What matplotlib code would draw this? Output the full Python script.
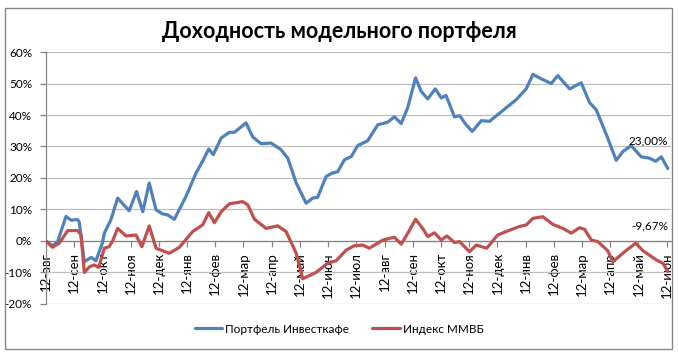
import matplotlib
matplotlib.use('Agg')
import matplotlib.pyplot as plt
from matplotlib.patches import Rectangle
from matplotlib.ticker import FuncFormatter

plt.rcParams['font.family'] = ['Lato', 'DejaVu Sans']

# подписи месяцев (12-е число каждого месяца, авг 2012 - июн 2014)
month_labels = ['12-авг', '12-сен', '12-окт', '12-ноя', '12-дек', '12-янв', '12-фев',
                '12-мар', '12-апр', '12-май', '12-июн', '12-июл', '12-авг', '12-сен',
                '12-окт', '12-ноя', '12-дек', '12-янв', '12-фев', '12-мар', '12-апр',
                '12-май', '12-июн']

# Портфель Инвесткафе: позиция в месяцах от 12-авг, доходность в %
portf_x = [0.00, 0.23, 0.41, 0.71, 0.89, 1.12, 1.18, 1.36, 1.60, 1.77, 2.00, 2.07,
           2.30, 2.54, 2.95, 3.21, 3.43, 3.66, 3.90, 4.13, 4.31, 4.55, 4.96, 5.32,
           5.55, 5.77, 5.93, 6.21, 6.50, 6.68, 7.09, 7.33, 7.62, 7.98, 8.33, 8.57,
           8.87, 9.22, 9.45, 9.63, 9.93, 10.16, 10.34, 10.58, 10.82, 11.05, 11.40,
           11.76, 12.11, 12.35, 12.59, 12.82, 13.10, 13.30, 13.53, 13.80, 14.01,
           14.18, 14.48, 14.66, 14.89, 15.11, 15.43, 15.72, 16.01, 16.67, 17.02,
           17.26, 17.55, 17.91, 18.14, 18.56, 18.97, 19.27, 19.50, 19.91, 20.21,
           20.45, 20.74, 21.10, 21.39, 21.61, 21.81, 22.04]
portf_y = [0.0, -1.5, -0.3, 7.8, 6.6, 6.8, 6.0, -6.6, -5.2, -6.3, -0.6, 2.5,
           6.7, 13.6, 9.6, 15.7, 9.3, 18.4, 9.9, 8.6, 8.3, 6.9, 14.1, 21.6,
           25.3, 29.2, 27.4, 32.7, 34.5, 34.5, 37.5, 33.0, 30.9, 31.1, 29.0, 26.3,
           18.4, 12.0, 13.6, 13.9, 20.5, 21.6, 22.0, 25.8, 26.8, 30.3, 31.8,
           36.9, 37.7, 39.4, 37.3, 42.3, 51.8, 47.5, 45.1, 48.3, 45.4,
           46.2, 39.4, 39.8, 36.9, 34.8, 38.2, 38.0, 40.1, 44.9, 48.3,
           52.9, 51.5, 50.0, 52.5, 48.3, 50.2, 43.9, 41.7, 32.7, 25.6,
           28.4, 30.3, 26.7, 26.3, 25.3, 26.7, 23.00]

# Индекс ММВБ
micex_x = [0.00, 0.23, 0.47, 0.77, 1.12, 1.24, 1.36, 1.54, 1.71, 1.87, 2.07, 2.24,
           2.36, 2.54, 2.84, 3.19, 3.40, 3.66, 3.90, 4.37, 4.73, 5.20, 5.55, 5.77,
           5.97, 6.21, 6.50, 6.97, 7.15, 7.39, 7.80, 8.21, 8.51, 8.87, 9.10, 9.57,
           9.99, 10.28, 10.64, 10.93, 11.23, 11.46, 11.94, 12.35, 12.59, 12.82,
           13.10, 13.35, 13.53, 13.77, 14.01, 14.21, 14.48, 14.66, 15.01, 15.25,
           15.62, 16.01, 16.31, 16.78, 17.02, 17.26, 17.61, 17.96, 18.32, 18.62,
           18.91, 19.09, 19.33, 19.56, 19.91, 20.09, 20.51, 20.90, 21.16, 21.63,
           21.87, 22.04]
micex_y = [0.0, -2.0, -0.7, 3.3, 3.3, 2.0, -10.0, -8.2, -7.6, -8.4, -2.3, -1.8,
           0.0, 4.0, 1.6, 1.9, -1.8, 4.8, -2.3, -3.9, -2.0, 3.0, 5.1, 9.0,
           5.8, 9.3, 11.8, 12.5, 11.5, 6.9, 4.0, 4.8, 3.0, -3.9, -12.0, -10.0,
           -7.0, -6.3, -2.9, -1.5, -1.3, -2.3, 0.3, 1.2, -1.0, 2.4,
           6.9, 4.0, 1.4, 2.6, 0.3, 1.6, -0.5, -0.2, -3.4, -1.3,
           -2.3, 1.9, 3.0, 4.6, 5.1, 7.2, 7.7, 5.3, 4.0, 2.5,
           4.2, 3.7, 0.3, -0.2, -3.1, -6.6, -3.4, -0.7, -3.1, -6.0,
           -7.1, -9.67]

blue = '#4F81BD'
red = '#C0504D'
axis_col = '#868686'
grid_col = '#BFBFBF'

fig = plt.figure(figsize=(6.78, 3.55), dpi=100)
ax = fig.add_axes([0.0678, 0.1437, 0.9226, 0.7098])

ax.plot(portf_x, portf_y, color=blue, lw=2.3, solid_joinstyle='round', solid_capstyle='round',
        label='Портфель Инвесткафе', zorder=3)
ax.plot(micex_x, micex_y, color=red, lw=2.3, solid_joinstyle='round', solid_capstyle='round',
        label='Индекс ММВБ', zorder=3)

ax.set_ylim(-20, 60)
ax.set_yticks(range(-20, 61, 10))
ax.yaxis.set_major_formatter(FuncFormatter(lambda v, p: f'{v:.0f}%'))
ax.set_xlim(0, 22.17)

ax.grid(axis='y', color=grid_col, lw=0.9)
ax.set_axisbelow(True)
ax.spines['top'].set_visible(False)
ax.spines['right'].set_visible(False)
ax.spines['bottom'].set_position(('data', 0))
for s in ('left', 'bottom'):
    ax.spines[s].set_color(axis_col)
    ax.spines[s].set_linewidth(0.9)
ax.tick_params(axis='both', colors=axis_col, length=4, width=0.9, labelcolor='black',
               labelsize=8.5)
ax.tick_params(axis='x', pad=4, labelrotation=90, labelsize=9.5)
ax.tick_params(axis='y', pad=6)
ax.set_xticks(range(len(month_labels)))
ax.set_xticklabels(month_labels, rotation=90, va='top', ha='center')

# подписи последних значений
ax.annotate(f'{portf_y[-1]:.2f}'.replace('.', ',') + '%', xy=(portf_x[-1], portf_y[-1]),
            xytext=(0, 28), textcoords='offset pixels', ha='right', va='center', fontsize=8.5)
ax.annotate(f'{micex_y[-1]:.2f}'.replace('.', ',') + '%', xy=(micex_x[-1], micex_y[-1]),
            xytext=(0, 46), textcoords='offset pixels', ha='right', va='center', fontsize=8.5)

fig.text(0.5, 0.91, 'Доходность модельного портфеля', ha='center', va='center',
         fontsize=15.5, fontweight='bold')

fig.legend(loc='center', bbox_to_anchor=(0.50, 0.073), ncol=2, frameon=False, fontsize=8.5,
           handlelength=2.3, handletextpad=0.25, columnspacing=2.0)

fig.patches.append(Rectangle((0.0074, 0.0169), 0.9838, 0.9606, transform=fig.transFigure,
                             fill=False, edgecolor=axis_col, lw=1.0))

fig.savefig('out.png', dpi=100)
